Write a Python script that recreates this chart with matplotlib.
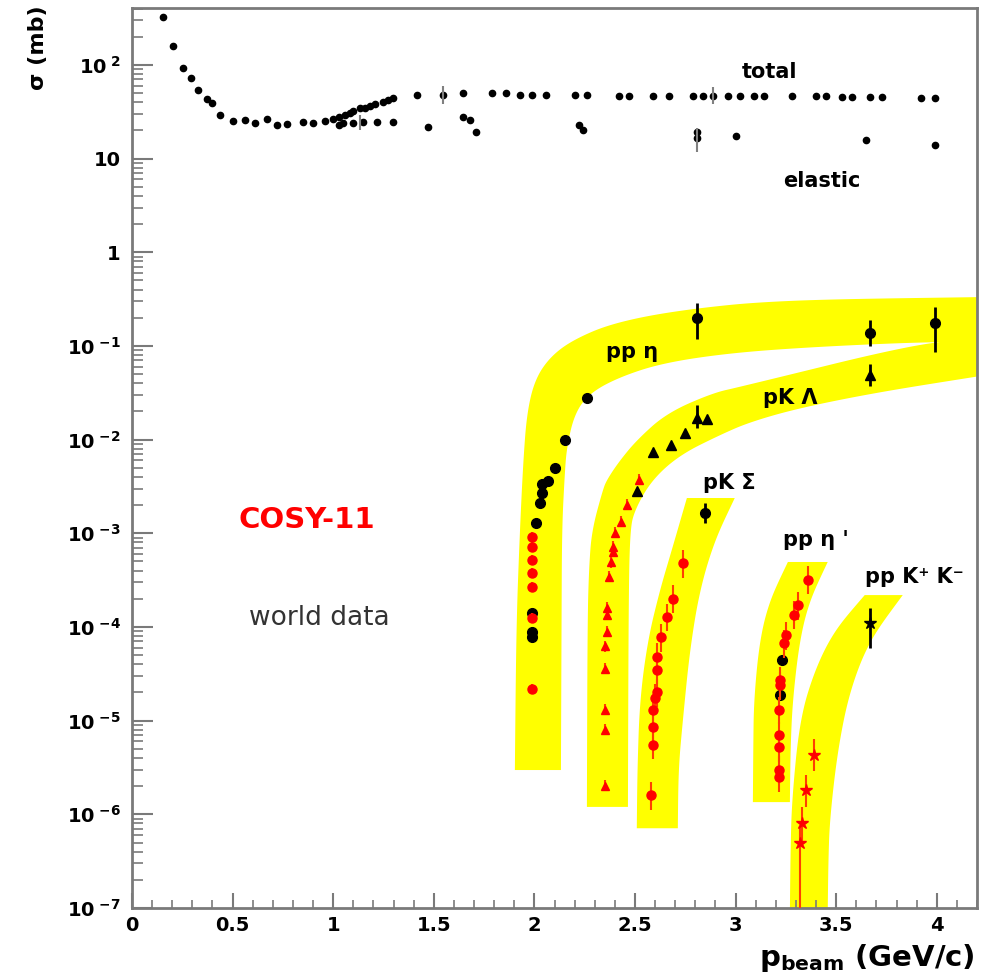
import numpy as np
import matplotlib
matplotlib.use("Agg")
import matplotlib.pyplot as plt
from matplotlib.ticker import FixedLocator, LogLocator, MultipleLocator, NullFormatter, FixedFormatter

plt.rcParams['font.family'] = ['DejaVu Sans']

# ---------------- data ----------------
total_p = [0.154, 0.204, 0.253, 0.293, 0.328, 0.373, 0.398, 0.437, 0.502, 0.561,
           0.611, 0.671, 0.72, 0.77, 0.85, 0.90, 0.96, 1.0, 1.03, 1.06, 1.083, 1.10,
           1.133, 1.16, 1.183, 1.21, 1.247, 1.27, 1.297, 1.416, 1.545, 1.645, 1.79,
           1.86, 1.93, 1.99, 2.06, 2.20, 2.26, 2.42, 2.47, 2.59, 2.67, 2.79, 2.84,
           2.89, 2.96, 3.02, 3.09, 3.14, 3.28, 3.40, 3.45, 3.53, 3.58, 3.67, 3.73,
           3.92, 3.99]
total_sigma = [325, 160, 93, 73, 54, 43, 39, 29, 25, 26,
               24, 26.5, 23, 23.4, 24.6, 24, 25, 26.5, 28, 29.5, 30.7, 32,
               34.7, 35, 36.5, 38, 40, 42, 44.6, 48, 48, 50, 50,
               50, 48, 48, 48, 48, 48, 47, 47, 47, 47, 47, 47,
               47, 46, 46, 46, 46, 46, 46, 46, 45, 45, 45, 45,
               44, 44]
total_err_p = [1.545, 2.89]
total_err_s = [48, 47]
total_err_lo = [38, 38]
total_err_hi = [60, 58]

elastic_p = [1.03, 1.05, 1.10, 1.148, 1.217, 1.297, 1.47, 1.645, 1.68, 1.71,
             2.22, 2.24, 2.81, 2.81, 3.0, 3.65, 3.99]
elastic_sigma = [23, 24, 24, 24.6, 24.6, 24.6, 22, 27.5, 26, 19,
                 23, 20, 19, 16.5, 17.5, 15.8, 14]
elastic_err_p = [1.133, 2.81]
elastic_err_s = [24, 16.5]
elastic_err_lo = [20, 11.8]
elastic_err_hi = [29, 21]

# pp -> pp eta
ppeta_world_p = [2.81, 3.67, 3.99, 2.26, 2.15, 2.10, 2.07, 2.04, 2.04, 2.03, 2.01, 1.99, 1.99, 1.99]
ppeta_world_s = [0.20, 0.138, 0.176, 0.028, 0.010, 0.005, 0.0036, 0.0034, 0.0027, 0.0021,
                 0.0013, 1.4e-4, 8.9e-5, 7.8e-5]
ppeta_world_lo = [0.12, 0.10, 0.087, 0.028, 0.010, 0.005, 0.0036, 0.0034, 0.0027, 0.0021,
                  0.0013, 1.4e-4, 8.9e-5, 7.8e-5]
ppeta_world_hi = [0.29, 0.19, 0.26, 0.028, 0.010, 0.005, 0.0036, 0.0034, 0.0027, 0.0021,
                  0.0013, 1.4e-4, 8.9e-5, 7.8e-5]
ppeta_cosy_p = [1.99, 1.99, 1.99, 1.99, 1.99, 1.99, 1.99]
ppeta_cosy_s = [9.1e-4, 7.1e-4, 5.2e-4, 3.8e-4, 2.7e-4, 1.25e-4, 2.2e-5]

# pp -> p K+ Lambda
pkl_world_p = [2.81, 2.86, 2.75, 2.68, 2.59, 3.67, 2.51]
pkl_world_s = [0.017, 0.0166, 0.0118, 0.0087, 0.0074, 0.049, 0.0028]
pkl_world_lo = [0.0134, 0.0166, 0.0118, 0.0087, 0.0074, 0.037, 0.0028]
pkl_world_hi = [0.0234, 0.0166, 0.0118, 0.0087, 0.0074, 0.064, 0.0028]
pkl_cosy_p = [2.52, 2.46, 2.43, 2.40, 2.39, 2.39, 2.38, 2.37, 2.36, 2.36, 2.36,
              2.35, 2.35, 2.35, 2.35, 2.35]
pkl_cosy_s = [0.0037, 0.0020, 0.00132, 0.001, 7.1e-4, 6.3e-4, 4.9e-4, 3.4e-4, 1.6e-4,
              1.35e-4, 8.9e-5, 6.2e-5, 3.6e-5, 1.3e-5, 7.9e-6, 2.0e-6]

# pp -> p K+ Sigma0
pks_world_p = [2.85]
pks_world_s = [0.00166]
pks_world_lo = [0.0013]
pks_world_hi = [0.0021]
pks_cosy_p = [2.74, 2.69, 2.66, 2.63, 2.61, 2.61, 2.61, 2.60, 2.59, 2.59, 2.59, 2.58]
pks_cosy_s = [4.8e-4, 2.0e-4, 1.28e-4, 7.8e-5, 4.8e-5, 3.5e-5, 2.0e-5, 1.75e-5,
              1.3e-5, 8.5e-6, 5.5e-6, 1.6e-6]

# pp -> pp eta'
ppetap_world_p = [3.23, 3.22]
ppetap_world_s = [4.4e-5, 1.86e-5]
ppetap_cosy_p = [3.36, 3.31, 3.29, 3.25, 3.24, 3.22, 3.22, 3.215, 3.215, 3.215, 3.215, 3.215]
ppetap_cosy_s = [3.2e-4, 1.7e-4, 1.35e-4, 8.2e-5, 6.7e-5, 2.7e-5, 2.4e-5, 1.3e-5,
                 7.0e-6, 5.2e-6, 3.0e-6, 2.5e-6]

# pp -> pp K+ K-
ppkk_world_p = [3.67]
ppkk_world_s = [1.1e-4]
ppkk_world_lo = [6.0e-5]
ppkk_world_hi = [1.6e-4]
ppkk_cosy_p = [3.39, 3.35, 3.33, 3.32]
ppkk_cosy_s = [4.3e-6, 1.8e-6, 8.1e-7, 4.9e-7]
ppkk_cosy_lo = [2.9e-6, 1.2e-6, 5.0e-7, 1.0e-7]
ppkk_cosy_hi = [6.4e-6, 2.6e-6, 1.2e-6, 7.5e-7]

# highlight bands: outer and inner edges (p in GeV/c, sigma in mb)
ppeta_outer_p = [1.903, 1.910, 1.928, 1.945, 1.963, 2.002, 2.077, 2.191, 2.39, 2.723, 3.22, 4.25]
ppeta_outer_s = [2.97e-6, 1e-4, 1.08e-3, 6e-3, 0.0192, 0.0434, 0.076, 0.116, 0.176, 0.242, 0.31, 0.333]
ppeta_inner_p = [2.132, 2.135, 2.137, 2.150, 2.161, 2.201, 2.276, 2.425, 2.639, 2.971, 3.384, 3.930, 4.25]
ppeta_inner_s = [2.97e-6, 1e-4, 1.08e-3, 4e-3, 0.00835, 0.0192, 0.0315, 0.0467, 0.0658, 0.084, 0.0975, 0.110, 0.11]
pkl_outer_p = [2.261, 2.264, 2.272, 2.286, 2.340, 2.360, 2.42, 2.509, 2.658, 2.887, 3.021, 3.93, 4.25]
pkl_outer_s = [1.2e-6, 1.19e-4, 4.5e-4, 1.08e-3, 0.0029, 0.00371, 0.0058, 0.0099, 0.0192, 0.0315, 0.0365, 0.110, 0.12]
pkl_inner_p = [2.465, 2.468, 2.475, 2.50, 2.584, 2.723, 2.922, 3.071, 3.319, 3.717, 4.25]
pkl_inner_s = [1.2e-6, 1.5e-4, 1.08e-3, 0.0018, 0.00371, 0.00686, 0.0112, 0.0154, 0.0218, 0.0323, 0.049]
pks_outer_p = [2.509, 2.512, 2.524, 2.564, 2.624, 2.683, 2.758]
pks_outer_s = [7.1e-7, 3e-6, 1.66e-5, 7.3e-5, 2.48e-4, 6.63e-4, 2.38e-3]
pks_inner_p = [2.713, 2.716, 2.738, 2.773, 2.822, 2.897, 2.996]
pks_inner_s = [7.1e-7, 3e-6, 1.02e-5, 5.7e-5, 2.48e-4, 8.5e-4, 2.38e-3]
ppetap_outer_p = [3.086, 3.088, 3.091, 3.120, 3.170, 3.260]
ppetap_outer_s = [1.35e-6, 5e-6, 1.66e-5, 7.3e-5, 1.94e-4, 4.94e-4]
ppetap_inner_p = [3.270, 3.273, 3.284, 3.319, 3.369, 3.458]
ppetap_inner_s = [1.35e-6, 5e-6, 1.66e-5, 7.3e-5, 1.94e-4, 4.94e-4]
ppkk_outer_p = [3.270, 3.273, 3.280, 3.319, 3.394, 3.493, 3.642]
ppkk_outer_s = [9e-8, 4e-7, 1.42e-6, 1.02e-5, 3.5e-5, 9.3e-5, 2.19e-4]
ppkk_inner_p = [3.458, 3.461, 3.468, 3.508, 3.568, 3.667, 3.831]
ppkk_inner_s = [9e-8, 3e-7, 8.7e-7, 4.9e-6, 2.1e-5, 7.3e-5, 2.19e-4]

ytick_vals = [1e-7, 1e-6, 1e-5, 1e-4, 1e-3, 1e-2, 1e-1, 1, 10, 1e2]
ytick_labels = [r'$\mathbf{10}^{\ \mathbf{-7}}$', r'$\mathbf{10}^{\ \mathbf{-6}}$',
                r'$\mathbf{10}^{\ \mathbf{-5}}$', r'$\mathbf{10}^{\ \mathbf{-4}}$',
                r'$\mathbf{10}^{\ \mathbf{-3}}$', r'$\mathbf{10}^{\ \mathbf{-2}}$',
                r'$\mathbf{10}^{\ \mathbf{-1}}$', '1', '10', r'$\mathbf{10}^{\ \mathbf{2}}$']
xtick_vals = [0, 0.5, 1, 1.5, 2, 2.5, 3, 3.5, 4]
xtick_labels = ['0', '0.5', '1', '1.5', '2', '2.5', '3', '3.5', '4']

# ---------------- plot ----------------
fig = plt.figure(figsize=(9.93, 9.77), dpi=100)
ax = fig.add_axes([132 / 993, 69 / 977, 845 / 993, 900 / 977])
ax.set_yscale('log')
ax.set_xlim(0, 4.2)
ax.set_ylim(1e-7, 405)


def chaikin(p, s, n=4):
    """Round the corners of a hand-drawn edge (open polyline, ends kept), in (p, log s)."""
    pts = np.column_stack([np.asarray(p, float), np.log10(s)])
    for _ in range(n):
        a, b = pts[:-1], pts[1:]
        q = 0.75 * a + 0.25 * b
        r = 0.25 * a + 0.75 * b
        mid = np.empty((2 * len(a), 2))
        mid[0::2] = q
        mid[1::2] = r
        pts = np.vstack([pts[:1], mid[1:-1], pts[-1:]])
    return pts[:, 0], 10 ** pts[:, 1]


yellow = '#ffff00'
for op, os_, ip, is_ in [(ppeta_outer_p, ppeta_outer_s, ppeta_inner_p, ppeta_inner_s),
                         (pkl_outer_p, pkl_outer_s, pkl_inner_p, pkl_inner_s),
                         (pks_outer_p, pks_outer_s, pks_inner_p, pks_inner_s),
                         (ppetap_outer_p, ppetap_outer_s, ppetap_inner_p, ppetap_inner_s),
                         (ppkk_outer_p, ppkk_outer_s, ppkk_inner_p, ppkk_inner_s)]:
    ox, oy = chaikin(op, os_)
    ix, iy = chaikin(ip, is_)
    ax.fill(np.concatenate([ox, ix[::-1]]), np.concatenate([oy, iy[::-1]]),
            color=yellow, lw=0, zorder=1)


def errs(s, lo, hi):
    s = np.array(s)
    return [s - np.array(lo), np.array(hi) - s]


# total / elastic
ax.plot(total_p, total_sigma, 'o', color='black', ms=4.5, zorder=3)
ax.errorbar(total_err_p, total_err_s, yerr=errs(total_err_s, total_err_lo, total_err_hi),
            fmt='none', ecolor='gray', elinewidth=1.5, zorder=3)
ax.plot(elastic_p, elastic_sigma, 'o', color='black', ms=4.5, zorder=3)
ax.errorbar(elastic_err_p, elastic_err_s, yerr=errs(elastic_err_s, elastic_err_lo, elastic_err_hi),
            fmt='none', ecolor='gray', elinewidth=1.5, zorder=3)

red = '#ff0000'
ered = '#ff4000'
# world data (black)
ax.errorbar(ppeta_world_p, ppeta_world_s, yerr=errs(ppeta_world_s, ppeta_world_lo, ppeta_world_hi),
            fmt='o', color='black', ms=7, elinewidth=2, zorder=4)
ax.errorbar(pkl_world_p, pkl_world_s, yerr=errs(pkl_world_s, pkl_world_lo, pkl_world_hi),
            fmt='^', color='black', ms=6.5, elinewidth=2, zorder=4)
ax.errorbar(pks_world_p, pks_world_s, yerr=errs(pks_world_s, pks_world_lo, pks_world_hi),
            fmt='o', color='black', ms=7, elinewidth=2, zorder=4)
ax.plot(ppetap_world_p, ppetap_world_s, 'o', color='black', ms=7, zorder=4)
ax.errorbar(ppkk_world_p, ppkk_world_s, yerr=errs(ppkk_world_s, ppkk_world_lo, ppkk_world_hi),
            fmt='*', color='black', ms=9, elinewidth=2, zorder=4)


# COSY-11 (red)
def cosy(p, s, marker='o', ms=6.5, frac=0.25):
    s = np.array(s)
    ax.errorbar(p, s, yerr=[s * frac, s * frac * 1.3], fmt=marker, color=red, ecolor=ered,
                ms=ms, elinewidth=1.5, zorder=5)


cosy(ppeta_cosy_p, ppeta_cosy_s, frac=0.1)
cosy(pkl_cosy_p, pkl_cosy_s, marker='^', ms=5.5, frac=0.12)
cosy(pks_cosy_p, pks_cosy_s, frac=0.3)
cosy(ppetap_cosy_p, ppetap_cosy_s, frac=0.3)
ax.errorbar(ppkk_cosy_p, ppkk_cosy_s, yerr=errs(ppkk_cosy_s, ppkk_cosy_lo, ppkk_cosy_hi),
            fmt='*', color=red, ecolor=ered, ms=9, elinewidth=1.5, zorder=5)

# axes style
spine_c = '#7a7a7a'
for sp in ax.spines.values():
    sp.set_color(spine_c)
    sp.set_linewidth(2)
ax.yaxis.set_major_locator(FixedLocator(ytick_vals))
ax.yaxis.set_major_formatter(FixedFormatter(ytick_labels))
ax.yaxis.set_minor_locator(LogLocator(base=10, subs=np.arange(2, 10), numticks=20))
ax.yaxis.set_minor_formatter(NullFormatter())
ax.xaxis.set_major_locator(FixedLocator(xtick_vals))
ax.xaxis.set_major_formatter(FixedFormatter(xtick_labels))
ax.xaxis.set_minor_locator(MultipleLocator(0.1))
ax.tick_params(axis='both', which='both', direction='in', colors=spine_c,
               top=False, right=False)
ax.tick_params(axis='y', which='major', length=15, width=1.5, labelsize=14,
               labelcolor='black', pad=8)
ax.tick_params(axis='y', which='minor', length=8, width=1.2)
ax.tick_params(axis='x', which='major', length=11, width=1.5, labelsize=14,
               labelcolor='black', pad=6)
ax.tick_params(axis='x', which='minor', length=6, width=1.2)
for lab in ax.get_xticklabels() + ax.get_yticklabels():
    lab.set_fontweight('bold')

fig.text(38 / 993, 1 - 48 / 977, 'σ (mb)', rotation=90, ha='center', va='center',
         fontsize=16, fontweight='bold')
fig.text(975 / 993, 1 - 958 / 977, r'$\mathbf{p_{beam}}$ (GeV/c)', ha='right', va='center',
         fontsize=21, fontweight='bold')

# labels
ax.text(3.17, 84, 'total', ha='center', va='center', fontsize=15, fontweight='bold')
ax.text(3.43, 5.77, 'elastic', ha='center', va='center', fontsize=15, fontweight='bold')
ax.text(2.485, 0.0863, 'pp η', ha='center', va='center', fontsize=15, fontweight='bold', zorder=6)
ax.text(3.27, 0.0279, 'pK Λ', ha='center', va='center', fontsize=15, fontweight='bold', zorder=6)
ax.text(2.97, 0.00344, 'pK Σ', ha='center', va='center', fontsize=15, fontweight='bold')
ax.text(3.40, 8.5e-4, "pp η '", ha='center', va='center', fontsize=15, fontweight='bold')
ax.text(3.89, 3.4e-4, 'pp K⁺ K⁻', ha='center', va='center', fontsize=15, fontweight='bold')
ax.text(0.87, 1.39e-3, 'COSY-11', ha='center', va='center', fontsize=21, fontweight='bold',
        color='#ff0000')
ax.text(0.93, 1.25e-4, 'world data', ha='center', va='center', fontsize=19, color='#333333')

fig.savefig('out.png', dpi=100)
